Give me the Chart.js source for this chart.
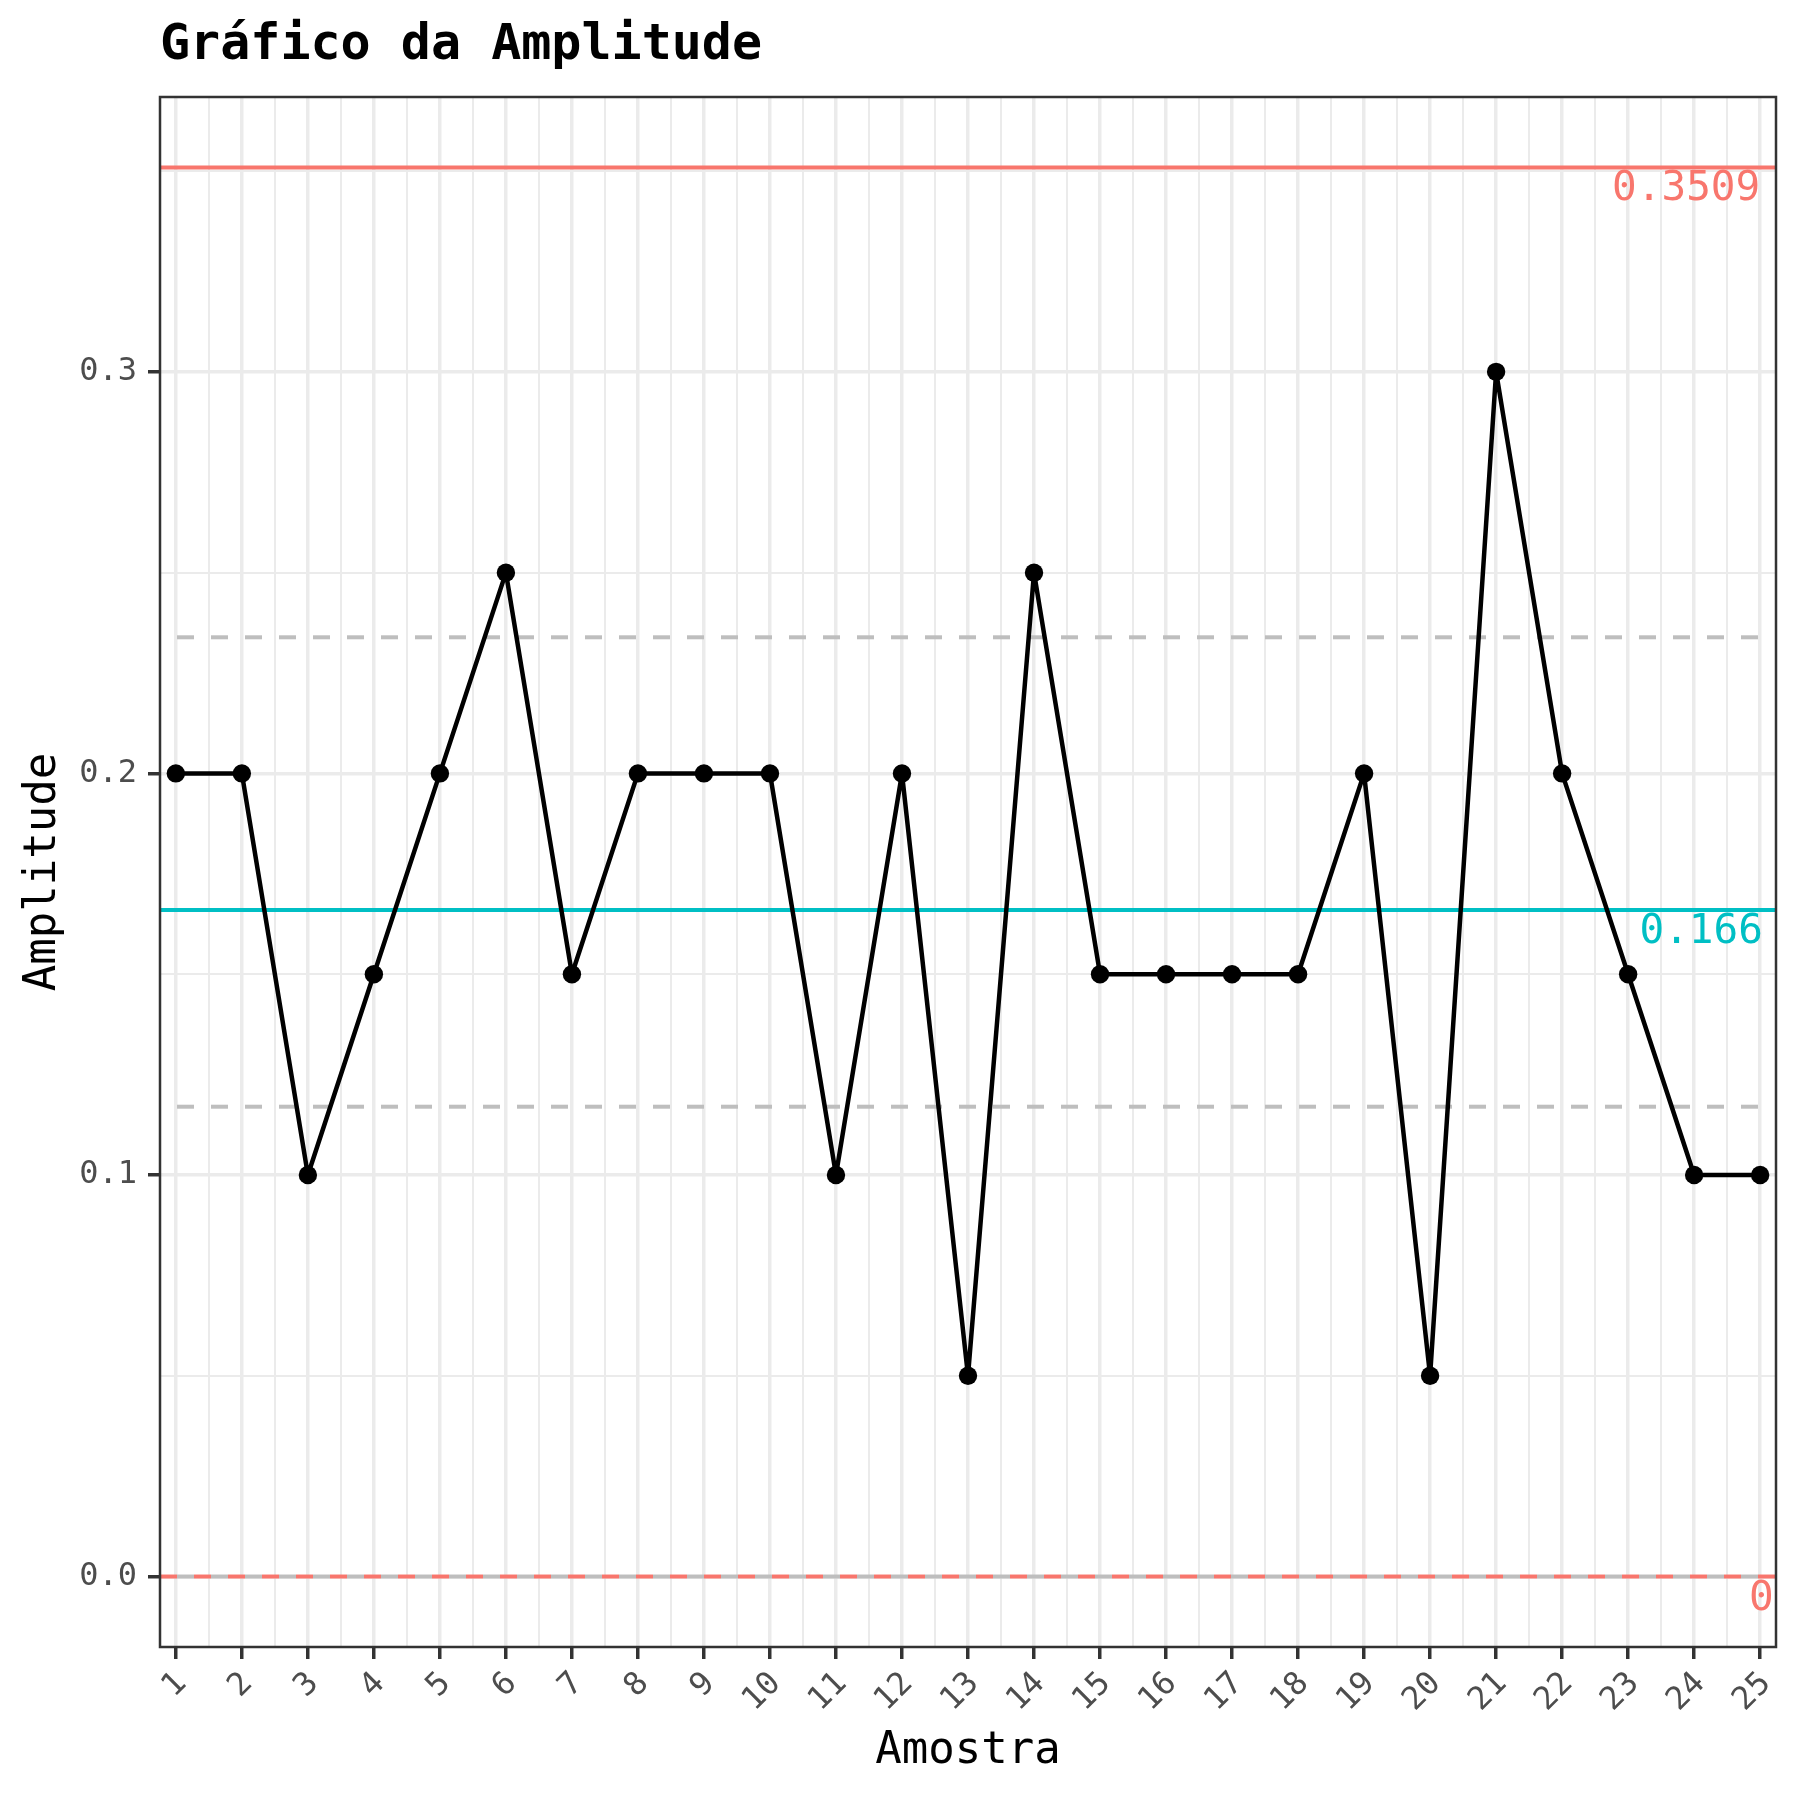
<!DOCTYPE html>
<html>
<head>
<meta charset="utf-8">
<title>Gráfico da Amplitude</title>
<script src="https://cdn.jsdelivr.net/npm/chart.js@4.4.1/dist/chart.umd.min.js"></script>
<style>
  html, body { margin: 0; padding: 0; background: #fff; }
  canvas { display: block; }
</style>
</head>
<body>
<canvas id="rChart" width="1800" height="1800"></canvas>
<script>
// data
const samples = [1, 2, 3, 4, 5, 6, 7, 8, 9, 10, 11, 12, 13, 14, 15, 16, 17, 18, 19, 20, 21, 22, 23, 24, 25];
const amplitude = [0.2, 0.2, 0.1, 0.15, 0.2, 0.25, 0.15, 0.2, 0.2, 0.2, 0.1, 0.2, 0.05, 0.25, 0.15,
                   0.15, 0.15, 0.15, 0.2, 0.05, 0.3, 0.2, 0.15, 0.1, 0.1];
const yTickValues = [0, 0.1, 0.2, 0.3];
const limitValues = [0.3509, 0.166, 0];      // LSC, LC, LIC
const limitLabels = ['0.3509', '0.166', '0'];
const zoneValues = [0, 0.117, 0.2339];

const FONT = '"DejaVu Sans Mono", monospace';
const RED = '#F8766D';
const CYAN = '#00BFC4';
const ZONE = '#BEBEBE';
const GRID = '#EBEBEB';
const DARK = '#333333';
const limitColors = [RED, CYAN, RED];

const xMin = 0.76, xMax = 25.24;
const yMin = -0.01755, yMax = 0.36845;

function hline(v) {
  return [{ x: xMin, y: v }, { x: xMax, y: v }];
}

function isMajor(v, step) {
  return Math.abs(v / step - Math.round(v / step)) < 1e-6;
}

const datasets = [
  {
    data: samples.map((s, i) => ({ x: s, y: amplitude[i] })),
    borderColor: '#000',
    backgroundColor: '#000',
    borderWidth: 4.5,
    borderJoinStyle: 'round',
    borderCapStyle: 'round',
    pointRadius: 9.2,
    pointBorderWidth: 0,
    tension: 0
  },
  { data: hline(limitValues[0]), borderColor: RED, borderWidth: 4, pointRadius: 0 },
  { data: hline(limitValues[1]), borderColor: CYAN, borderWidth: 4, pointRadius: 0 },
  { data: hline(limitValues[2]), borderColor: RED, borderWidth: 4, borderDash: [17, 17], pointRadius: 0 }
];
zoneValues.forEach(v => {
  datasets.push({
    data: hline(v), borderColor: ZONE, borderWidth: 4,
    borderDash: [17, 17], borderDashOffset: 17, pointRadius: 0
  });
});

const limitText = {
  id: 'limitText',
  afterDatasetsDraw(chart) {
    const { ctx, chartArea, scales } = chart;
    ctx.save();
    ctx.font = '41px ' + FONT;
    ctx.textAlign = 'left';
    ctx.textBaseline = 'alphabetic';
    limitValues.forEach((v, i) => {
      const w = ctx.measureText(limitLabels[i]).width;
      const y = scales.y.getPixelForValue(v);
      ctx.fillStyle = limitColors[i];
      ctx.fillText(limitLabels[i], chartArea.right + 0.5 - 1.11 * w, y + 33);
    });
    ctx.restore();
  }
};

const panelBorder = {
  id: 'panelBorder',
  afterDraw(chart) {
    const { ctx, chartArea } = chart;
    ctx.save();
    ctx.strokeStyle = DARK;
    ctx.lineWidth = 2.5;
    ctx.strokeRect(chartArea.left, chartArea.top, chartArea.right - chartArea.left, chartArea.bottom - chartArea.top);
    ctx.restore();
  }
};

new Chart(document.getElementById('rChart'), {
  type: 'line',
  data: { datasets: datasets },
  options: {
    responsive: false,
    animation: false,
    layout: { padding: { top: 0, right: 24, bottom: 0, left: 0 } },
    plugins: {
      legend: { display: false },
      tooltip: { enabled: false },
      title: {
        display: true,
        text: 'Gráfico da Amplitude',
        align: 'start',
        fullSize: false,
        color: '#000',
        font: { family: FONT, size: 50, weight: 'bold' },
        padding: { top: 16, bottom: 21 }
      }
    },
    scales: {
      x: {
        type: 'linear',
        min: xMin,
        max: xMax,
        afterBuildTicks(scale) {
          const t = [];
          samples.forEach((s, i) => {
            t.push({ value: s });
            if (i < samples.length - 1) t.push({ value: s + 0.5 });
          });
          scale.ticks = t;
        },
        afterFit(scale) {
          scale.height = 153;
          scale.paddingLeft = 0;
          scale.paddingRight = 0;
        },
        ticks: {
          autoSkip: false,
          minRotation: 45,
          maxRotation: 45,
          padding: 6,
          labelOffset: 6,
          color: '#4D4D4D',
          font: { family: FONT, size: 32 },
          callback: v => isMajor(v, 1) ? String(v) : ''
        },
        grid: {
          color: GRID,
          lineWidth: c => isMajor(c.tick.value, 1) ? 3.5 : 2,
          tickLength: 12,
          tickWidth: 3.5,
          tickColor: c => isMajor(c.tick.value, 1) ? DARK : 'rgba(0,0,0,0)'
        },
        border: { display: false },
        title: {
          display: true,
          text: 'Amostra',
          color: '#000',
          font: { family: FONT, size: 44 },
          padding: { top: 0, bottom: 22 }
        }
      },
      y: {
        type: 'linear',
        min: yMin,
        max: yMax,
        afterBuildTicks(scale) {
          const t = [];
          yTickValues.forEach(v => {
            t.push({ value: v });
            t.push({ value: v + 0.05 });
          });
          scale.ticks = t;
        },
        afterFit(scale) {
          scale.width = 160;
          scale.paddingTop = 0;
          scale.paddingBottom = 0;
        },
        ticks: {
          padding: 11,
          color: '#4D4D4D',
          font: { family: FONT, size: 32 },
          callback: v => isMajor(v, 0.1) ? v.toFixed(1) : ''
        },
        grid: {
          color: GRID,
          lineWidth: c => isMajor(c.tick.value, 0.1) ? 3.5 : 2,
          tickLength: 12,
          tickWidth: 3.5,
          tickColor: c => isMajor(c.tick.value, 0.1) ? DARK : 'rgba(0,0,0,0)'
        },
        border: { display: false },
        title: {
          display: true,
          text: 'Amplitude',
          color: '#000',
          font: { family: FONT, size: 44 },
          padding: { top: 17, bottom: 0 }
        }
      }
    }
  },
  plugins: [limitText, panelBorder]
});
</script>
</body>
</html>
